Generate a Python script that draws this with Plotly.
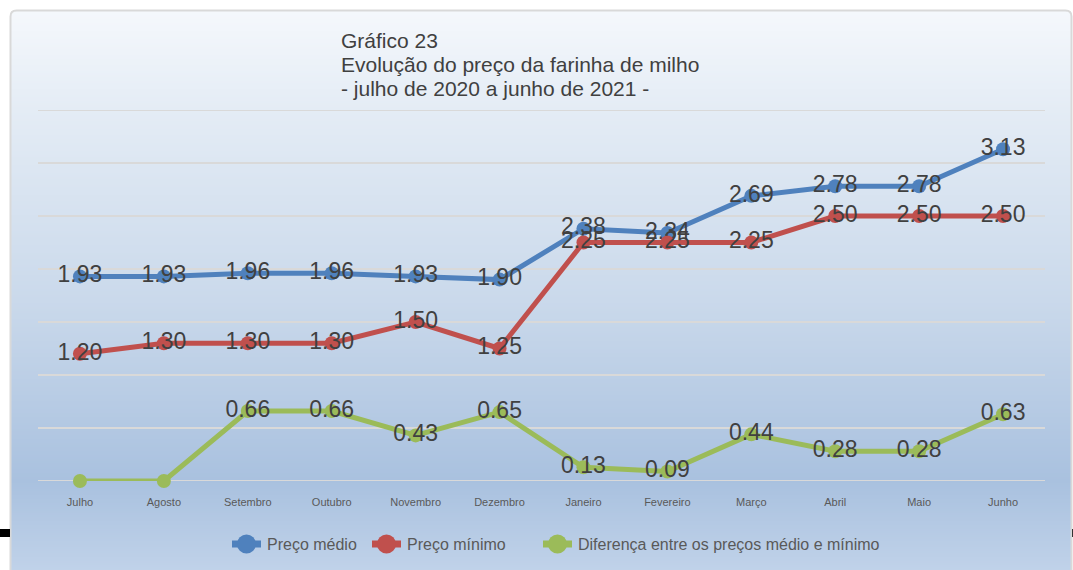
import plotly.graph_objects as go

# Monthly values, July 2020 to June 2021
months = ["Julho", "Agosto", "Setembro", "Outubro", "Novembro", "Dezembro",
          "Janeiro", "Fevereiro", "Março", "Abril", "Maio", "Junho"]
preco_medio = [1.93, 1.93, 1.96, 1.96, 1.93, 1.90, 2.38, 2.34, 2.69, 2.78, 2.78, 3.13]
preco_minimo = [1.20, 1.30, 1.30, 1.30, 1.50, 1.25, 2.25, 2.25, 2.25, 2.50, 2.50, 2.50]
diferenca = [0.00, 0.00, 0.66, 0.66, 0.43, 0.65, 0.13, 0.09, 0.44, 0.28, 0.28, 0.63]

title_lines = ["Gráfico 23",
               "Evolução do preço da farinha de milho",
               "- julho de 2020 a junho de 2021 -"]

Y_MIN, Y_MAX, Y_STEP = 0.0, 3.5, 0.5

FONT = "Liberation Sans, Arial"
W, H = 1073, 570
L, R, T, B = 38, 1045, 110, 481   # plot area in pixels


def px(x):
    return (x - L) / (R - L)


def py(y):
    return (B - y) / (B - T)


def lab(vals, hide_zero=False):
    return ["" if (hide_zero and v == 0) else f"{v:.2f}" for v in vals]


series = [
    ("Preço médio", preco_medio, "#4f81bd", lab(preco_medio)),
    ("Preço mínimo", preco_minimo, "#c0504d", lab(preco_minimo)),
    ("Diferença entre os preços médio e mínimo", diferenca, "#9bbb59", lab(diferenca, True)),
]

fig = go.Figure()
for name, vals, col, txt in series:
    fig.add_trace(go.Scatter(
        x=months, y=vals, name=name, mode="lines+markers+text",
        line=dict(color=col, width=5),
        marker=dict(color=col, size=14),
        text=txt, textposition="middle center",
        textfont=dict(family=FONT, size=23, color="#404040"),
        cliponaxis=False, showlegend=False,
    ))

# vertical background gradient of the chart panel
stops = [(10, (245, 248, 252)), (110, (228, 236, 245)), (300, (202, 217, 235)),
         (481, (169, 193, 223)), (570, (192, 210, 233))]


def grad(y):
    for (y0, c0), (y1, c1) in zip(stops, stops[1:]):
        if y0 <= y <= y1:
            t = (y - y0) / (y1 - y0)
            return "rgb(%d,%d,%d)" % tuple(round(a + (b - a) * t) for a, b in zip(c0, c1))
    return "rgb(%d,%d,%d)" % stops[-1][1]


shapes = []
step = 2
for y in range(11, 572, step):
    shapes.append(dict(type="rect", xref="paper", yref="paper", layer="below",
                       x0=px(11), x1=px(1071), y0=py(y), y1=py(y + step + 0.5),
                       fillcolor=grad(y + step / 2), line=dict(width=0)))

# gridlines at the bottom and top edges of the value range
for gy in (Y_MIN, Y_MAX):
    shapes.append(dict(type="line", xref="paper", yref="y", layer="below",
                       x0=0, x1=1, y0=gy, y1=gy,
                       line=dict(color="#d9d9d9", width=2)))

# rounded panel border
r = 6
x0, x1, y0, y1 = 10.5, 1071.5, 10.5, 575
path = (f"M {px(x0)},{py(y1)} L {px(x0)},{py(y0 + r)} "
        f"Q {px(x0)},{py(y0)} {px(x0 + r)},{py(y0)} "
        f"L {px(x1 - r)},{py(y0)} Q {px(x1)},{py(y0)} {px(x1)},{py(y0 + r)} "
        f"L {px(x1)},{py(y1)}")
shapes.append(dict(type="path", xref="paper", yref="paper", path=path,
                   line=dict(color="#d9d9d9", width=2), layer="below"))

# small dark marks at the panel edges
shapes.append(dict(type="rect", xref="paper", yref="paper", x0=px(0), x1=px(10),
                   y0=py(537), y1=py(529), fillcolor="#000000", line=dict(width=0)))
shapes.append(dict(type="rect", xref="paper", yref="paper", x0=px(1072), x1=px(1074),
                   y0=py(537), y1=py(529), fillcolor="#333333", line=dict(width=0)))

annotations = []
for i, line in enumerate(title_lines):
    annotations.append(dict(
        xref="paper", yref="paper", x=px(339), y=py(40 + 24 * i),
        xanchor="left", yanchor="middle", showarrow=False, text=line,
        font=dict(family=FONT, size=21, color="#404040")))

# legend: line stub with a round marker, followed by the series name
leg_y = 544
leg_x = [232, 372, 543]
for (name, _, col, _), lx in zip(series, leg_x):
    shapes.append(dict(type="line", xref="paper", yref="paper",
                       x0=px(lx), x1=px(lx + 29), y0=py(leg_y), y1=py(leg_y),
                       line=dict(color=col, width=7)))
    shapes.append(dict(type="circle", xref="paper", yref="paper",
                       x0=px(lx + 5), x1=px(lx + 24), y0=py(leg_y + 9.5), y1=py(leg_y - 9.5),
                       fillcolor=col, line=dict(width=0)))
    annotations.append(dict(
        xref="paper", yref="paper", x=px(lx + 33), y=py(leg_y),
        xanchor="left", yanchor="middle", showarrow=False, text=name,
        font=dict(family=FONT, size=16, color="#595959")))

fig.update_layout(
    width=W, height=H,
    margin=dict(l=L, r=W - R, t=T, b=H - B, pad=0),
    paper_bgcolor="white", plot_bgcolor="rgba(0,0,0,0)",
    shapes=shapes, annotations=annotations,
    showlegend=False,
    xaxis=dict(type="category", range=[-0.5, 11.5], showgrid=False, zeroline=False,
               showline=False, ticks="", ticklabelstandoff=13, automargin=False,
               tickfont=dict(family=FONT, size=11, color="#595959")),
    yaxis=dict(range=[Y_MIN, Y_MAX], dtick=Y_STEP, tick0=Y_MIN, showticklabels=False,
               showgrid=True, gridcolor="#d9d9d9", gridwidth=2, zeroline=False,
               showline=False, automargin=False),
)

fig.write_html("out.html")
